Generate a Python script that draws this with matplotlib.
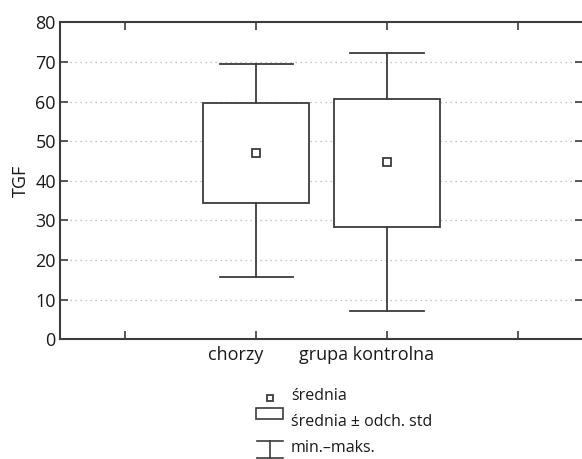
import matplotlib
matplotlib.use("Agg")
import matplotlib.pyplot as plt
import matplotlib.transforms as mtransforms
from matplotlib.patches import Rectangle
from matplotlib.lines import Line2D

plt.rcParams['font.family'] = ['Open Sans', 'DejaVu Sans']

categories = ["chorzy", "grupa kontrolna"]
means = [47.1, 44.7]
sd_low = [34.3, 28.4]
sd_high = [59.7, 60.6]
mins = [15.6, 7.1]
maxs = [69.6, 72.2]
yticks = [0, 10, 20, 30, 40, 50, 60, 70, 80]

col = "#3c3c3c"
fig = plt.figure(figsize=(5.82, 4.59), dpi=100)
ax = fig.add_axes([60/582, 1-339.3/459, 1-60/582 + 0.002, (339.3-22.3)/459])

positions = [1, 2]
box_w = 0.81
cap_w = 0.56
for p, m, lo, hi, mn, mx in zip(positions, means, sd_low, sd_high, mins, maxs):
    ax.add_patch(Rectangle((p - box_w/2, lo), box_w, hi - lo, facecolor="white",
                           edgecolor=col, linewidth=1.3, zorder=3))
    ax.plot([p, p], [hi, mx], color=col, lw=1.3, zorder=3)
    ax.plot([p, p], [mn, lo], color=col, lw=1.3, zorder=3)
    ax.plot([p - cap_w/2, p + cap_w/2], [mx, mx], color=col, lw=1.3, zorder=3)
    ax.plot([p - cap_w/2, p + cap_w/2], [mn, mn], color=col, lw=1.3, zorder=3)
    ax.plot([p], [m], marker="s", ms=6, mfc="white", mec=col, mew=1.3, zorder=4)

ax.set_xlim(-0.5, 3.5)
ax.set_ylim(0, 80)
ax.set_yticks(yticks)
ax.set_xticks([0, 1, 2, 3])
ax.set_xticklabels(["", categories[0], categories[1], ""])
for v in yticks[1:-1]:
    ax.axhline(v, color="#b0b0b0", lw=0.9, ls=(0, (1, 3)), zorder=1)

ax.tick_params(axis="both", direction="in", length=6, width=1.2, color=col,
               labelsize=13, labelcolor="#1a1a1a", top=True, right=True, pad=3)
ax.tick_params(axis="x", pad=5)
shift = mtransforms.ScaledTranslation(-0.2, 0, fig.dpi_scale_trans)
for lbl in ax.get_xticklabels():
    lbl.set_transform(lbl.get_transform() + shift)
for s in ax.spines.values():
    s.set_color(col)
    s.set_linewidth(1.5)
ax.set_ylabel("TGF", fontsize=13, color="#1a1a1a", labelpad=4)

# legend drawn in figure pixel coords
def fx(x):
    return x / 582
def fy(y):
    return 1 - y / 459

fig.add_artist(Line2D([fx(270)], [fy(398)], marker="s", ms=5, mfc="white",
                      mec=col, mew=1.3, transform=fig.transFigure))
fig.add_artist(Rectangle((fx(256), fy(419)), fx(283) - fx(256), fy(407.5) - fy(419),
                         facecolor="white", edgecolor=col, lw=1.2, transform=fig.transFigure))
fig.add_artist(Line2D([fx(257), fx(283)], [fy(441), fy(441)], color=col, lw=1.2,
                      transform=fig.transFigure))
fig.add_artist(Line2D([fx(270), fx(270)], [fy(441), fy(458)], color=col, lw=1.2,
                      transform=fig.transFigure))
fig.add_artist(Line2D([fx(257), fx(283)], [fy(458), fy(458)], color=col, lw=1.2,
                      transform=fig.transFigure))
leg_texts = ["średnia", "średnia ± odch. std", "min.–maks."]
leg_y = [396, 422, 448]
for t, y in zip(leg_texts, leg_y):
    fig.text(fx(291), fy(y), t, fontsize=11.5, color="#1a1a1a", va="center", ha="left")

fig.savefig("out.png", dpi=100)
